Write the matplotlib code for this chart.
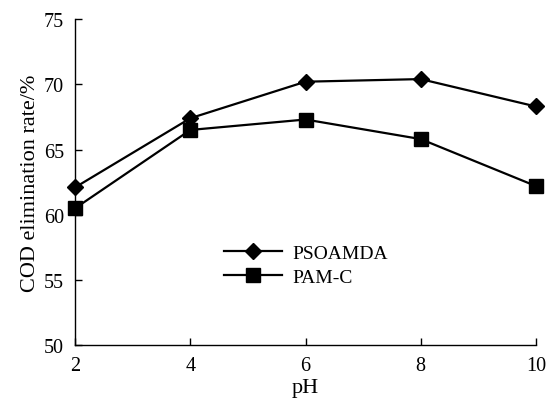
import matplotlib.pyplot as plt

ph = [2, 4, 6, 8, 10]
psoamda = [62.1, 67.4, 70.2, 70.4, 68.3]
pam_c = [60.5, 66.5, 67.3, 65.8, 62.2]
x_ticks = [2, 4, 6, 8, 10]
y_ticks = [50, 55, 60, 65, 70, 75]

plt.rcParams['font.family'] = ['Liberation Serif', 'DejaVu Serif']

fig = plt.figure(figsize=(5.49, 4.02), dpi=100)
ax = fig.add_axes([0.137, 0.139, 0.839, 0.811])

ax.plot(ph, psoamda, color='black', lw=1.6, marker='D', markersize=8,
        label='PSOAMDA', clip_on=False, zorder=3)
ax.plot(ph, pam_c, color='black', lw=1.6, marker='s', markersize=10,
        label='PAM-C', clip_on=False, zorder=3)

ax.set_xlim(2, 10)
ax.set_ylim(50, 75)
ax.set_xticks(x_ticks)
ax.set_yticks(y_ticks)
ax.tick_params(direction='in', length=5, width=1, labelsize=14.5, pad=8)
ax.spines['top'].set_visible(False)
ax.spines['right'].set_visible(False)
for s in ['left', 'bottom']:
    ax.spines[s].set_linewidth(1)

ax.set_xlabel('pH', fontsize=16, labelpad=2)
ax.set_ylabel('COD elimination rate/%', fontsize=16, labelpad=3)

ax.legend(loc='upper left', bbox_to_anchor=(0.302, 0.34), frameon=False, fontsize=14,
          handlelength=3.0, handletextpad=0.5, labelspacing=0.35, borderpad=0)

fig.savefig('out.png', dpi=100)
